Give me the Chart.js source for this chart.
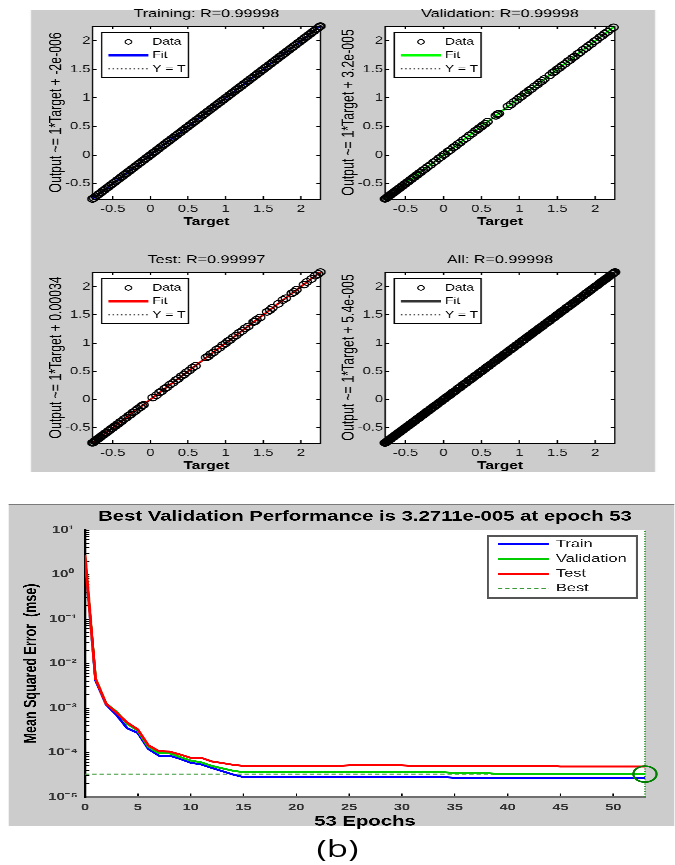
<!DOCTYPE html>
<html>
<head>
<meta charset="utf-8">
<script src="https://cdn.jsdelivr.net/npm/chart.js@4.4.1/dist/chart.umd.min.js"></script>
<style>
html,body{margin:0;padding:0;background:#fff;width:675px;height:865px;overflow:hidden;}
.stretch{position:absolute;left:0;top:0;transform-origin:0 0;}
#topWrap{width:482.15px;height:480px;transform:scaleX(1.4);}
#botWrap{width:465.52px;height:865px;transform:scaleX(1.45);}
.panel{position:absolute;background:#cccccc;}
canvas{position:absolute;}
#lbl{position:absolute;left:0;width:465.52px;top:834px;text-align:center;font:24px/28px 'Open Sans','Noto Sans',sans-serif;color:#000;}
</style>
</head>
<body>
<div id="topWrap" class="stretch">
  <div class="panel" style="left:22.1px;top:10px;width:445.8px;height:462px;"></div>
  <canvas id="cTrain" width="215" height="225" style="left:21.7px;top:6px;"></canvas>
  <canvas id="cVal" width="217" height="225" style="left:231px;top:6px;"></canvas>
  <canvas id="cTest" width="215" height="223" style="left:21.7px;top:252px;"></canvas>
  <canvas id="cAll" width="217" height="223" style="left:231px;top:252px;"></canvas>
</div>
<div id="botWrap" class="stretch">
  <div class="panel" style="left:6.2px;top:503.5px;width:459.3px;height:321px;border-top:1px solid #7a7a7a;"></div>
  <canvas id="cPerf" width="460" height="335" style="left:6px;top:504px;"></canvas>
  <div id="lbl">(b)</div>
</div>
<script>
// ---------------- data: regression plots ----------------
const regAxisMin = -0.77;
const regAxisMax = 2.26;
const regTickValues = [-0.5, 0, 0.5, 1, 1.5, 2];
const regTickLabels = ['-0.5', '0', '0.5', '1', '1.5', '2'];
const regTitles = ['Training: R=0.99998', 'Validation: R=0.99998', 'Test: R=0.99997', 'All: R=0.99998'];
const regYLabels = ['Output ~= 1*Target + -2e-006', 'Output ~= 1*Target + 3.2e-005', 'Output ~= 1*Target + 0.00034', 'Output ~= 1*Target + 5.4e-005'];
const regLegendLabels = ['Data', 'Fit', 'Y = T'];
const fitSlopes = [1, 1, 1, 1];
const fitIntercepts = [-2e-6, 3.2e-5, 0.00034, 5.4e-5];
const fitColors = ['#0000ff', '#00ff00', '#ff0000', '#333333'];

const trainTarget = [-0.77,-0.75,-0.725,-0.70,-0.68,-0.655,-0.63,-0.61,-0.585,-0.56,
-0.535,-0.51,-0.49,-0.465,-0.44,-0.415,-0.39,-0.37,-0.345,-0.32,
-0.295,-0.27,-0.25,-0.225,-0.20,-0.175,-0.15,-0.13,-0.105,-0.08,
-0.055,-0.03,-0.01,0.015,0.04,0.065,0.09,0.11,0.135,0.16,
0.185,0.21,0.23,0.255,0.28,0.305,0.33,0.35,0.375,0.40,
0.425,0.45,0.47,0.495,0.52,0.545,0.57,0.59,0.615,0.64,
0.665,0.69,0.71,0.735,0.76,0.785,0.81,0.83,0.855,0.88,
0.905,0.93,0.95,0.975,1.00,1.025,1.05,1.07,1.095,1.12,
1.145,1.17,1.19,1.215,1.24,1.265,1.29,1.31,1.335,1.36,
1.385,1.41,1.43,1.455,1.48,1.505,1.53,1.55,1.575,1.60,
1.625,1.65,1.67,1.695,1.72,1.745,1.77,1.79,1.815,1.84,
1.865,1.89,1.91,1.935,1.96,1.985,2.01,2.03,2.055,2.08,
2.105,2.13,2.15,2.175,2.20,2.225,2.245,2.26];
const trainOutput = [-0.768,-0.752,-0.722,-0.703,-0.679,-0.657,-0.628,-0.612,-0.583,-0.562,
-0.533,-0.512,-0.488,-0.467,-0.438,-0.417,-0.388,-0.372,-0.343,-0.322,
-0.293,-0.272,-0.248,-0.227,-0.198,-0.177,-0.148,-0.132,-0.103,-0.082,
-0.053,-0.032,-0.008,0.013,0.042,0.063,0.092,0.108,0.137,0.158,
0.187,0.208,0.232,0.253,0.282,0.303,0.332,0.348,0.377,0.398,
0.427,0.448,0.472,0.493,0.522,0.543,0.572,0.588,0.617,0.638,
0.667,0.688,0.712,0.733,0.762,0.783,0.812,0.828,0.857,0.878,
0.907,0.928,0.952,0.973,1.002,1.023,1.052,1.068,1.097,1.118,
1.147,1.168,1.192,1.213,1.242,1.263,1.292,1.308,1.337,1.358,
1.387,1.408,1.432,1.453,1.482,1.503,1.532,1.548,1.577,1.598,
1.627,1.648,1.672,1.693,1.722,1.743,1.772,1.788,1.817,1.838,
1.867,1.888,1.912,1.933,1.962,1.983,2.012,2.028,2.057,2.078,
2.107,2.128,2.152,2.173,2.202,2.223,2.247,2.258];

const valTarget = [-0.77,-0.755,-0.74,-0.725,-0.71,-0.695,-0.68,-0.665,-0.65,-0.635,
-0.62,-0.60,-0.585,-0.57,-0.55,-0.535,-0.515,-0.50,-0.48,-0.46,
-0.44,-0.42,-0.40,-0.38,-0.36,-0.34,-0.32,-0.30,-0.27,-0.24,
-0.21,-0.17,-0.13,-0.10,-0.06,-0.03,0.00,0.02,0.06,0.09,
0.13,0.16,0.19,0.22,0.26,0.30,0.34,0.38,0.42,0.45,
0.47,0.50,0.52,0.55,0.58,0.69,0.71,0.73,0.85,0.89,
0.93,0.97,1.00,1.03,1.07,1.10,1.13,1.16,1.20,1.24,
1.27,1.30,1.33,1.40,1.44,1.47,1.50,1.53,1.56,1.60,
1.64,1.67,1.70,1.73,1.77,1.80,1.84,1.88,1.91,1.95,
1.99,2.02,2.06,2.09,2.12,2.16,2.20,2.24];
const valOutput = [-0.767,-0.758,-0.737,-0.728,-0.707,-0.698,-0.677,-0.668,-0.647,-0.638,
-0.617,-0.603,-0.582,-0.573,-0.547,-0.538,-0.512,-0.503,-0.477,-0.463,
-0.437,-0.423,-0.397,-0.383,-0.357,-0.343,-0.317,-0.303,-0.267,-0.243,
-0.207,-0.173,-0.127,-0.103,-0.057,-0.033,0.003,0.017,0.063,0.087,
0.133,0.157,0.193,0.217,0.263,0.297,0.343,0.377,0.423,0.447,
0.473,0.497,0.523,0.547,0.583,0.687,0.713,0.727,0.853,0.887,
0.933,0.967,1.003,1.027,1.073,1.097,1.133,1.157,1.203,1.237,
1.273,1.297,1.333,1.397,1.443,1.467,1.503,1.527,1.563,1.597,
1.643,1.667,1.703,1.727,1.773,1.797,1.843,1.877,1.913,1.947,
1.993,2.017,2.063,2.087,2.123,2.157,2.203,2.237];

const testTarget = [-0.77,-0.755,-0.74,-0.725,-0.71,-0.69,-0.675,-0.66,-0.64,-0.62,
-0.60,-0.58,-0.56,-0.54,-0.52,-0.50,-0.48,-0.46,-0.44,-0.42,
-0.40,-0.38,-0.35,-0.32,-0.29,-0.26,-0.23,-0.20,-0.17,-0.13,
-0.11,-0.09,0.03,0.08,0.12,0.15,0.19,0.22,0.26,0.30,
0.34,0.37,0.41,0.45,0.48,0.52,0.56,0.60,0.74,0.77,
0.80,0.84,0.88,0.92,0.96,1.00,1.03,1.06,1.10,1.14,
1.18,1.22,1.26,1.30,1.37,1.39,1.41,1.46,1.55,1.59,
1.62,1.70,1.76,1.80,1.88,1.91,1.94,2.04,2.08,2.14,
2.19,2.23,2.26];
const testOutput = [-0.766,-0.759,-0.736,-0.729,-0.706,-0.694,-0.671,-0.664,-0.636,-0.624,
-0.596,-0.584,-0.556,-0.544,-0.516,-0.504,-0.476,-0.464,-0.436,-0.424,
-0.396,-0.384,-0.346,-0.324,-0.286,-0.264,-0.226,-0.204,-0.166,-0.134,
-0.106,-0.094,0.034,0.076,0.124,0.146,0.194,0.216,0.264,0.296,
0.344,0.366,0.414,0.446,0.484,0.516,0.564,0.596,0.744,0.766,
0.804,0.836,0.884,0.916,0.964,0.996,1.034,1.056,1.104,1.136,
1.184,1.216,1.264,1.296,1.374,1.386,1.414,1.456,1.554,1.586,
1.624,1.696,1.764,1.796,1.884,1.906,1.944,2.036,2.084,2.136,
2.194,2.226,2.258];

// "All" is the union of the three subsets
const allTarget = trainTarget.concat(valTarget, testTarget);
const allOutput = trainOutput.concat(valOutput, testOutput);

// ---------------- data: performance plot ----------------
const epochs = [0,1,2,3,4,5,6,7,8,9,10,11,12,13,14,15,16,17,18,19,20,21,22,23,24,25,26,27,28,29,30,31,32,33,34,35,36,37,38,39,40,41,42,43,44,45,46,47,48,49,50,51,52,53];
const trainPerf = [2.6,4.2e-3,1.2e-3,6.9e-4,3.5e-4,2.75e-4,1.2e-4,8.5e-5,8.5e-5,7.2e-5,
5.9e-5,5.4e-5,4.5e-5,3.8e-5,3.2e-5,2.8e-5,2.8e-5,2.8e-5,2.8e-5,2.8e-5,
2.8e-5,2.8e-5,2.8e-5,2.8e-5,2.8e-5,2.8e-5,2.8e-5,2.8e-5,2.8e-5,2.8e-5,
2.8e-5,2.8e-5,2.8e-5,2.8e-5,2.8e-5,2.7e-5,2.7e-5,2.7e-5,2.7e-5,2.7e-5,
2.7e-5,2.7e-5,2.7e-5,2.7e-5,2.7e-5,2.7e-5,2.7e-5,2.7e-5,2.7e-5,2.7e-5,
2.7e-5,2.7e-5,2.7e-5,2.7e-5];
const valPerf = [2.75,4.6e-3,1.25e-3,8.2e-4,4.4e-4,3.1e-4,1.35e-4,9.6e-5,9.6e-5,7.9e-5,
6.6e-5,6.0e-5,5.0e-5,4.4e-5,3.9e-5,3.6e-5,3.6e-5,3.6e-5,3.6e-5,3.6e-5,
3.6e-5,3.6e-5,3.6e-5,3.6e-5,3.6e-5,3.6e-5,3.6e-5,3.6e-5,3.6e-5,3.6e-5,
3.6e-5,3.6e-5,3.6e-5,3.6e-5,3.6e-5,3.45e-5,3.45e-5,3.45e-5,3.45e-5,3.3e-5,
3.3e-5,3.3e-5,3.3e-5,3.3e-5,3.3e-5,3.3e-5,3.3e-5,3.3e-5,3.3e-5,3.3e-5,
3.3e-5,3.3e-5,3.3e-5,3.2711e-5];
const testPerf = [2.7,4.5e-3,1.25e-3,7.8e-4,4.7e-4,3.3e-4,1.45e-4,1.07e-4,1.05e-4,9.0e-5,
7.6e-5,7.6e-5,6.3e-5,5.8e-5,5.3e-5,5.0e-5,5.0e-5,5.0e-5,5.0e-5,5.0e-5,
5.0e-5,5.0e-5,5.0e-5,5.0e-5,5.0e-5,5.15e-5,5.15e-5,5.15e-5,5.15e-5,5.15e-5,
5.15e-5,5.0e-5,5.0e-5,5.0e-5,5.0e-5,5.0e-5,5.0e-5,5.0e-5,5.0e-5,5.0e-5,
5.0e-5,5.0e-5,5.0e-5,5.0e-5,5.0e-5,4.85e-5,4.85e-5,4.85e-5,4.85e-5,4.85e-5,
4.85e-5,4.85e-5,4.85e-5,4.85e-5];
const perfLabels = ['Train', 'Validation', 'Test', 'Best'];
const perfColors = ['#0000ff', '#00cc00', '#ff0000', '#3a9a3a'];
const bestEpoch = 53;
const bestPerf = 3.2711e-5;
const epochMax = 53;
const perfYMin = 1e-5;
const perfYMax = 10;
const perfTickValues = [1e-5, 1e-4, 1e-3, 1e-2, 1e-1, 1, 10];
const perfTickLabels = ['10\u207B\u2075', '10\u207B\u2074', '10\u207B\u00B3', '10\u207B\u00B2', '10\u207B\u00B9', '10\u2070', '10\u00B9'];
const epochTickValues = [0, 5, 10, 15, 20, 25, 30, 35, 40, 45, 50];
const epochTickLabels = ['0', '5', '10', '15', '20', '25', '30', '35', '40', '45', '50'];

// ---------------- helpers ----------------
const FONT = "'Liberation Sans', Arial, Helvetica, sans-serif";
Chart.defaults.font.family = FONT;
Chart.defaults.color = '#000';

const whiteArea = {
  id: 'whiteArea',
  beforeDraw(chart) {
    const {ctx, chartArea: a} = chart;
    ctx.save();
    ctx.fillStyle = '#ffffff';
    ctx.fillRect(a.left, a.top, a.right - a.left, a.bottom - a.top);
    ctx.restore();
  }
};

function boxLegend(cfg) {
  return {
    id: 'boxLegend',
    afterDatasetsDraw(chart) {
      const {ctx, chartArea: ca} = chart;
      const x0 = cfg.fromRight ? ca.right - cfg.dx - cfg.w : ca.left + cfg.dx;
      const y0 = ca.top + cfg.dy;
      ctx.save();
      ctx.fillStyle = '#ffffff';
      ctx.fillRect(x0, y0, cfg.w, cfg.h);
      ctx.lineWidth = cfg.borderWidth;
      ctx.strokeStyle = cfg.borderColor;
      ctx.strokeRect(x0, y0, cfg.w, cfg.h);
      cfg.items.forEach((idx, i) => {
        const ds = chart.data.datasets[idx];
        const y = y0 + cfg.row0 + i * cfg.rowGap;
        const sx = x0 + cfg.sx;
        ctx.save();
        if (!ds.showLine) {
          ctx.beginPath();
          ctx.lineWidth = cfg.markerLW;
          ctx.strokeStyle = ds.pointBorderColor;
          ctx.arc(sx + cfg.sw / 2, y, cfg.markerR, 0, Math.PI * 2);
          ctx.stroke();
        } else {
          const dash = ds.borderDash || [];
          ctx.beginPath();
          ctx.lineWidth = dash.length ? ds.borderWidth : Math.max(ds.borderWidth, cfg.solidLW);
          ctx.strokeStyle = ds.borderColor;
          ctx.setLineDash(dash);
          ctx.moveTo(sx, y);
          ctx.lineTo(sx + cfg.sw, y);
          ctx.stroke();
        }
        ctx.restore();
        ctx.font = cfg.fontSize + 'px ' + FONT;
        ctx.textBaseline = 'middle';
        ctx.textAlign = 'left';
        ctx.fillStyle = cfg.textColor;
        ctx.fillText(ds.label, x0 + cfg.tx, y);
      });
      ctx.restore();
    }
  };
}

function regAxis(pos, showLabels, extra) {
  const isX = pos === 'top' || pos === 'bottom';
  const ax = {
    type: 'linear', position: pos, axis: isX ? 'x' : 'y',
    min: regAxisMin, max: regAxisMax,
    border: {display: true, color: '#000', width: 1},
    grid: {display: true, drawOnChartArea: false, drawTicks: true, tickLength: -3, color: '#000', lineWidth: 1},
    ticks: {display: showLabels, autoSkip: false, maxRotation: 0, color: '#151515',
      font: {family: FONT, size: 10.5},
      callback: (v) => { const i = regTickValues.indexOf(v); return i >= 0 ? regTickLabels[i] : ''; }},
    afterBuildTicks: (s) => { s.ticks = regTickValues.map(v => ({value: v})); }
  };
  return Object.assign(ax, extra);
}

function makeRegression(canvasId, k, targets, outputs, rightPad) {
  const n = Math.min(targets.length, outputs.length);
  const pts = [];
  for (let i = 0; i < n; i++) pts.push({x: targets[i], y: outputs[i]});
  const fitLine = [regAxisMin, regAxisMax].map(t => ({x: t, y: fitSlopes[k] * t + fitIntercepts[k]}));
  const idLine = [regAxisMin, regAxisMax].map(t => ({x: t, y: t}));
  return new Chart(document.getElementById(canvasId), {
    type: 'scatter',
    data: {
      datasets: [
        {label: regLegendLabels[0], data: pts, showLine: false, pointStyle: 'circle', pointRadius: 3.3,
          pointBorderWidth: 1, pointBorderColor: '#000', pointBackgroundColor: 'rgba(0,0,0,0)',
          borderColor: '#000', clip: false, order: 0},
        {label: regLegendLabels[1], data: fitLine, showLine: true, borderColor: fitColors[k], borderWidth: 1.8,
          pointRadius: 0, order: 2},
        {label: regLegendLabels[2], data: idLine, showLine: true, borderColor: '#000', borderWidth: 1,
          borderDash: [1, 2], pointRadius: 0, order: 1}
      ]
    },
    options: {
      responsive: false, animation: false, devicePixelRatio: 3, events: [],
      layout: {padding: {left: 0, right: rightPad, top: 0, bottom: 0}},
      plugins: {
        legend: {display: false}, tooltip: {enabled: false},
        title: {display: true, fullSize: false, text: regTitles[k], color: '#000',
          font: {family: FONT, size: 11.5, weight: 'normal'}, padding: {top: 1.1, bottom: 5.1}}
      },
      scales: {
        x: regAxis('bottom', true, {
          ticks: Object.assign(regAxis('bottom', true, {}).ticks, {padding: 6.8}),
          title: {display: true, text: 'Target', color: '#000', font: {family: FONT, size: 11, weight: 'bold'}, padding: {top: 0, bottom: 2.4}},
          afterFit: (s) => { s.height = 32; }
        }),
        x2: regAxis('top', false, {afterFit: (s) => { s.height = 0; }}),
        y: regAxis('left', true, {
          ticks: Object.assign(regAxis('left', true, {}).ticks, {padding: 4.4}),
          title: {display: true, text: regYLabels[k], color: '#000', font: {family: FONT, size: 12.3, weight: 'normal'}, padding: {top: 10.9, bottom: 0}},
          afterFit: (s) => { s.width = 44; }
        }),
        y2: regAxis('right', false, {afterFit: (s) => { s.width = 0; }})
      }
    },
    plugins: [whiteArea, boxLegend({
      fromRight: false, dx: 6.6, dy: 6.4, w: 62, h: 45, borderWidth: 1, borderColor: '#000',
      row0: 9.5, rowGap: 13.5, sx: 4.8, sw: 28.6, tx: 36.2, fontSize: 9.8, textColor: '#000',
      markerR: 2.3, markerLW: 0.9, solidLW: 2.2, items: [0, 1, 2]
    })]
  });
}

makeRegression('cTrain', 0, trainTarget, trainOutput, 8.1);
makeRegression('cVal', 1, valTarget, valOutput, 8.7);
makeRegression('cTest', 2, testTarget, testOutput, 8.1);
makeRegression('cAll', 3, allTarget, allOutput, 8.7);

// ---------------- performance chart ----------------
function series(vals) { return epochs.map((e, i) => ({x: e, y: vals[i]})); }
const perfMinor = [];
for (let d = 0; d < perfTickValues.length - 1; d++) {
  for (let m = 1; m <= 9; m++) perfMinor.push(perfTickValues[d] * m);
}
perfMinor.push(perfTickValues[perfTickValues.length - 1]);

new Chart(document.getElementById('cPerf'), {
  type: 'scatter',
  data: {
    datasets: [
      {label: perfLabels[0], data: series(trainPerf), showLine: true, borderColor: perfColors[0], borderWidth: 2, pointRadius: 0, order: 3},
      {label: perfLabels[1], data: series(valPerf), showLine: true, borderColor: perfColors[1], borderWidth: 2, pointRadius: 0, order: 2},
      {label: perfLabels[2], data: series(testPerf), showLine: true, borderColor: perfColors[2], borderWidth: 2, pointRadius: 0, order: 1},
      {label: perfLabels[3], data: [{x: 0, y: bestPerf}, {x: epochMax, y: bestPerf}], showLine: true, borderColor: perfColors[3],
        borderWidth: 1, borderDash: [3, 2], pointRadius: 0, order: 4},
      {label: '', data: [{x: bestEpoch, y: perfYMin}, {x: bestEpoch, y: perfYMax}], showLine: true, borderColor: '#2a952a',
        borderWidth: 1, borderDash: [1, 1.5], pointRadius: 0, order: 4, clip: false},
      {label: '', data: [{x: bestEpoch, y: bestPerf}], showLine: false, pointStyle: 'circle', pointRadius: 8,
        pointBorderWidth: 1.6, pointBorderColor: '#007f00', pointBackgroundColor: 'rgba(0,0,0,0)', clip: false, order: 0}
    ]
  },
  options: {
    responsive: false, animation: false, devicePixelRatio: 3, events: [],
    layout: {padding: {left: 0, right: 21.2, top: 0, bottom: 0}},
    plugins: {
      legend: {display: false}, tooltip: {enabled: false},
      title: {display: true, fullSize: false, text: 'Best Validation Performance is 3.2711e-005 at epoch 53', color: '#000',
        font: {family: FONT, size: 14, weight: 'bold'}, padding: {top: 4.3, bottom: 4.9}}
    },
    scales: {
      x: {
        type: 'linear', position: 'bottom', min: 0, max: epochMax,
        border: {display: true, color: '#6f6f6f', width: 1.5},
        grid: {display: true, drawOnChartArea: false, drawTicks: true, tickLength: -3.5, color: '#000', lineWidth: 1},
        ticks: {autoSkip: false, maxRotation: 0, padding: 8.2, color: '#333', font: {family: FONT, size: 10, weight: 'bold'},
          callback: (v) => { const i = epochTickValues.indexOf(v); return i >= 0 ? epochTickLabels[i] : ''; }},
        afterBuildTicks: (s) => { s.ticks = epochTickValues.map(v => ({value: v})); },
        title: {display: true, text: '53 Epochs', color: '#000', font: {family: FONT, size: 14, weight: 'bold'}, padding: {top: 0, bottom: 8.9}},
        afterFit: (s) => { s.height = 42; }
      },
      y: {
        type: 'logarithmic', position: 'left', min: perfYMin, max: perfYMax,
        border: {display: true, color: '#000', width: 1.5},
        grid: {display: true, drawOnChartArea: false, drawTicks: true, tickLength: -3, color: '#000', lineWidth: 1},
        ticks: {autoSkip: false, padding: 7.8, crossAlign: 'center', color: '#333', font: {family: FONT, size: 10.5, weight: 'bold'},
          callback: (v) => {
            const i = perfTickValues.findIndex(t => Math.abs(Math.log10(t) - Math.log10(v)) < 1e-6);
            return i >= 0 ? perfTickLabels[i] : '';
          }},
        afterBuildTicks: (s) => { s.ticks = perfMinor.map(v => ({value: v})); },
        title: {display: true, text: 'Mean Squared Error  (mse)', color: '#000', font: {family: FONT, size: 12.5, weight: 'bold'}, padding: {top: 7.9, bottom: 0}},
        afterFit: (s) => { s.width = 52.6; }
      }
    }
  },
  plugins: [whiteArea, boxLegend({
    fromRight: true, dx: 5.5, dy: 6, w: 102.8, h: 62, borderWidth: 1.4, borderColor: '#555',
    row0: 8.3, rowGap: 14.67, sx: 6.9, sw: 35.2, tx: 46.9, fontSize: 11.3, textColor: '#1a1a1a',
    markerR: 2, markerLW: 1, solidLW: 2, items: [0, 1, 2, 3]
  })]
});
</script>
</body>
</html>
